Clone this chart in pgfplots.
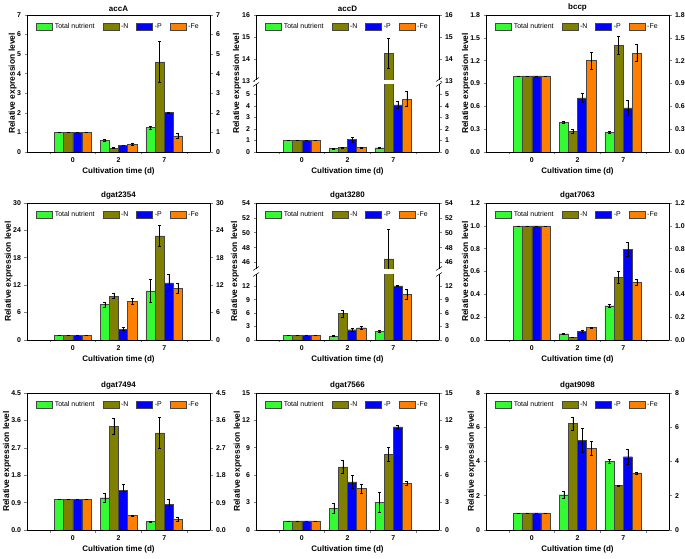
\documentclass[border=0pt]{standalone}
\usepackage{fontspec}
\setmainfont{Liberation Sans}
\usepackage{pgfplots}
\pgfplotsset{compat=1.18}

\definecolor{cgreen}{RGB}{51,250,51}
\definecolor{colive}{RGB}{128,128,0}
\definecolor{cblue}{RGB}{0,0,255}
\definecolor{corange}{RGB}{255,128,0}
\definecolor{cedge}{RGB}{70,70,70}

\pgfplotsset{
  bars/.style={ybar, bar width=0.2, bar shift=0pt, draw=cedge, line width=0.4bp,
    /pgfplots/error bars/y dir=both, /pgfplots/error bars/y explicit,
    /pgfplots/error bars/error bar style={black, line width=0.5bp},
    /pgfplots/error bars/error mark options={rotate=90, black, mark size=1.5bp, line width=0.5bp}},
  bT/.style={fill=cgreen, bars},
  bN/.style={fill=colive, bars},
  bP/.style={fill=cblue, bars},
  bF/.style={fill=corange, bars},
  panel/.style={
    scale only axis, width=183bp, height=137bp,
    xmin=0, xmax=4,
    xtick={1,2,3}, xticklabels={0,2,7},
    minor xtick={0.5,1.5,2.5,3.5},
    major x tick style={draw=none},
    tick align=outside, tick pos=left,
    major tick length=2.5bp, minor tick length=2.5bp,
    axis line style={line width=0.6bp},
    tick style={line width=0.6bp},
    ticklabel style={font=\bfseries\fontsize{7}{8}\selectfont},
    /pgf/number format/assume math mode=true,
    xlabel={Cultivation time (d)}, ylabel={Relative expression level},
    xlabel style={font=\bfseries\fontsize{8}{9.6}\selectfont, inner sep=0pt, yshift=-1bp},
    ylabel style={font=\bfseries\fontsize{8.5}{10}\selectfont, inner sep=0pt},
    ylabel shift=-3bp,
    every axis title/.style={at={(0.5,1)}, anchor=south, yshift=3.5bp, inner sep=0pt,
      font=\bfseries\fontsize{8}{9.6}\selectfont},
    legend columns=4,
    legend style={draw=none, fill=none, at={(0.5,1)}, anchor=center, yshift=-12bp,
      font=\fontsize{7}{8.4}\selectfont, inner sep=0pt,
      /tikz/every even column/.append style={column sep=6bp}},
    legend image code/.code={\draw[#1] (0bp,-3.5bp) rectangle (16bp,3.5bp);},
  },
  rightax/.style={
    scale only axis, width=183bp, xmin=0, xmax=4,
    axis x line=none, axis y line*=right, tick align=outside,
    major tick length=2.5bp, axis line style={line width=0.6bp},
    tick style={line width=0.6bp},
    ticklabel style={font=\bfseries\fontsize{7}{8}\selectfont},
    /pgf/number format/assume math mode=true,
  },
  dec1/.style={yticklabel style={/pgf/number format/fixed, /pgf/number format/fixed zerofill, /pgf/number format/precision=1}},
}

\begin{document}
\begin{tikzpicture}
\path[use as bounding box] (0,0) rectangle (685bp,559bp);

% ---------------- accA ----------------
\begin{axis}[panel, at={(27bp,407bp)}, title={accA}, ymin=0, ymax=7, ytick={0,1,...,7}]
\addplot[bT] coordinates {(0.7,1) +- (0,0) (1.7,0.6) +- (0,0.03) (2.7,1.25) +- (0,0.08)};
\addplot[bN] coordinates {(0.9,1) +- (0,0) (1.9,0.2) +- (0,0.02) (2.9,4.6) +- (0,1.05)};
\addplot[bP] coordinates {(1.1,1) +- (0,0) (2.1,0.35) +- (0,0.02) (3.1,2.02) +- (0,0.02)};
\addplot[bF] coordinates {(1.3,1) +- (0,0) (2.3,0.4) +- (0,0.07) (3.3,0.83) +- (0,0.15)};
\legend{Total nutrient,-N,-P,-Fe}
\end{axis}
\begin{axis}[rightax, at={(27bp,407bp)}, height=137bp, ymin=0, ymax=7, ytick={0,1,...,7}]
\end{axis}

% ---------------- accD (broken) ----------------
\begin{axis}[panel, at={(256bp,407bp)}, height=69bp, ymin=0, ymax=6, ytick={0,1,...,5}, ylabel={}]
\addplot[bT] coordinates {(0.7,1) +- (0,0) (1.7,0.32) +- (0,0.04) (2.7,0.37) +- (0,0.05)};
\addplot[bN] coordinates {(0.9,1) +- (0,0) (1.9,0.38) +- (0,0.03) (2.9,14.27) +- (0,0.67)};
\addplot[bP] coordinates {(1.1,1) +- (0,0) (2.1,1.07) +- (0,0.2) (3.1,4.1) +- (0,0.3)};
\addplot[bF] coordinates {(1.3,1) +- (0,0) (2.3,0.38) +- (0,0.05) (3.3,4.6) +- (0,0.65)};
\end{axis}
\begin{axis}[panel, at={(256bp,478bp)}, height=66bp, xtick=\empty, minor xtick=\empty, xlabel={}, ylabel={},
  title={accD}, ymin=13, ymax=16, ytick={13,14,15,16}]
\addplot[bT] coordinates {(0.7,1) +- (0,0) (1.7,0.32) +- (0,0.04) (2.7,0.37) +- (0,0.05)};
\addplot[bN] coordinates {(0.9,1) +- (0,0) (1.9,0.38) +- (0,0.03) (2.9,14.27) +- (0,0.67)};
\addplot[bP] coordinates {(1.1,1) +- (0,0) (2.1,1.07) +- (0,0.2) (3.1,4.1) +- (0,0.3)};
\addplot[bF] coordinates {(1.3,1) +- (0,0) (2.3,0.38) +- (0,0.05) (3.3,4.6) +- (0,0.65)};
\legend{Total nutrient,-N,-P,-Fe}
\end{axis}
\begin{axis}[rightax, at={(256bp,407bp)}, height=69bp, ymin=0, ymax=6, ytick={0,1,...,5}]
\end{axis}
\begin{axis}[rightax, at={(256bp,478bp)}, height=66bp, ymin=13, ymax=16, ytick={13,14,15,16}]
\end{axis}
\fill[white] (255bp,475.2bp) rectangle (440bp,478.8bp);
\node[rotate=90, font=\bfseries\fontsize{8.5}{10}\selectfont] at (237bp,475.5bp) {Relative expression level};
\foreach \bx in {256,439}{
  \draw[line width=0.5bp] ({\bx*1bp-3bp},472.5bp) -- ({\bx*1bp+3bp},476.5bp);
  \draw[line width=0.5bp] ({\bx*1bp-3bp},477.5bp) -- ({\bx*1bp+3bp},481.5bp);
}

% ---------------- bccp ----------------
\begin{axis}[panel, dec1, at={(486bp,407bp)}, title={bccp}, ymin=0, ymax=1.8, ytick={0,0.3,0.6,0.9,1.2,1.5,1.8}]
\addplot[bT] coordinates {(0.7,1) +- (0,0) (1.7,0.39) +- (0,0.01) (2.7,0.26) +- (0,0.01)};
\addplot[bN] coordinates {(0.9,1) +- (0,0) (1.9,0.27) +- (0,0.03) (2.9,1.40) +- (0,0.12)};
\addplot[bP] coordinates {(1.1,1) +- (0,0) (2.1,0.71) +- (0,0.06) (3.1,0.58) +- (0,0.1)};
\addplot[bF] coordinates {(1.3,1) +- (0,0) (2.3,1.20) +- (0,0.11) (3.3,1.30) +- (0,0.11)};
\legend{Total nutrient,-N,-P,-Fe}
\end{axis}
\begin{axis}[rightax, dec1, at={(486bp,407bp)}, height=137bp, ymin=0, ymax=1.8, ytick={0,0.3,0.6,0.9,1.2,1.5,1.8}]
\end{axis}

% ---------------- dgat2354 ----------------
\begin{axis}[panel, at={(27bp,219bp)}, title={dgat2354}, ymin=0, ymax=30, ytick={0,6,...,30}]
\addplot[bT] coordinates {(0.7,1) +- (0,0) (1.7,7.8) +- (0,0.55) (2.7,10.75) +- (0,2.5)};
\addplot[bN] coordinates {(0.9,1) +- (0,0) (1.9,9.6) +- (0,0.55) (2.9,22.8) +- (0,2.35)};
\addplot[bP] coordinates {(1.1,1) +- (0,0) (2.1,2.4) +- (0,0.3) (3.1,12.5) +- (0,1.8)};
\addplot[bF] coordinates {(1.3,1) +- (0,0) (2.3,8.5) +- (0,0.6) (3.3,11.3) +- (0,1.1)};
\legend{Total nutrient,-N,-P,-Fe}
\end{axis}
\begin{axis}[rightax, at={(27bp,219bp)}, height=137bp, ymin=0, ymax=30, ytick={0,6,...,30}]
\end{axis}

% ---------------- dgat3280 (broken) ----------------
\begin{axis}[panel, at={(256bp,219bp)}, height=67bp, ymin=0, ymax=15, ytick={0,3,...,12}, ylabel={}]
\addplot[bT] coordinates {(0.7,1) +- (0,0) (1.7,0.95) +- (0,0.15) (2.7,1.95) +- (0,0.2)};
\addplot[bN] coordinates {(0.9,1) +- (0,0) (1.9,5.9) +- (0,0.8) (2.9,46.5) +- (0,4.0)};
\addplot[bP] coordinates {(1.1,1) +- (0,0) (2.1,2.3) +- (0,0.3) (3.1,12.1) +- (0,0.15)};
\addplot[bF] coordinates {(1.3,1) +- (0,0) (2.3,2.75) +- (0,0.3) (3.3,10.25) +- (0,1.05)};
\end{axis}
\begin{axis}[panel, at={(256bp,289bp)}, height=67bp, xtick=\empty, minor xtick=\empty, xlabel={}, ylabel={},
  title={dgat3280}, ymin=45, ymax=54, ytick={46,48,...,54}]
\addplot[bT] coordinates {(0.7,1) +- (0,0) (1.7,0.95) +- (0,0.15) (2.7,1.95) +- (0,0.2)};
\addplot[bN] coordinates {(0.9,1) +- (0,0) (1.9,5.9) +- (0,0.8) (2.9,46.5) +- (0,4.0)};
\addplot[bP] coordinates {(1.1,1) +- (0,0) (2.1,2.3) +- (0,0.3) (3.1,12.1) +- (0,0.15)};
\addplot[bF] coordinates {(1.3,1) +- (0,0) (2.3,2.75) +- (0,0.3) (3.3,10.25) +- (0,1.05)};
\legend{Total nutrient,-N,-P,-Fe}
\end{axis}
\begin{axis}[rightax, at={(256bp,219bp)}, height=67bp, ymin=0, ymax=15, ytick={0,3,...,12}]
\end{axis}
\begin{axis}[rightax, at={(256bp,289bp)}, height=67bp, ymin=45, ymax=54, ytick={46,48,...,54}]
\end{axis}
\fill[white] (255bp,285.2bp) rectangle (440bp,289.8bp);
\node[rotate=90, font=\bfseries\fontsize{8.5}{10}\selectfont] at (235bp,287.5bp) {Relative expression level};
\foreach \bx in {256,439}{
  \draw[line width=0.5bp] ({\bx*1bp-3bp},282.5bp) -- ({\bx*1bp+3bp},286.5bp);
  \draw[line width=0.5bp] ({\bx*1bp-3bp},288.5bp) -- ({\bx*1bp+3bp},292.5bp);
}

% ---------------- dgat7063 ----------------
\begin{axis}[panel, dec1, at={(486bp,219bp)}, title={dgat7063}, ymin=0, ymax=1.2, ytick={0,0.2,0.4,0.6,0.8,1.0,1.2}]
\addplot[bT] coordinates {(0.7,1) +- (0,0) (1.7,0.055) +- (0,0.005) (2.7,0.30) +- (0,0.015)};
\addplot[bN] coordinates {(0.9,1) +- (0,0) (1.9,0.022) +- (0,0.002) (2.9,0.55) +- (0,0.05)};
\addplot[bP] coordinates {(1.1,1) +- (0,0) (2.1,0.075) +- (0,0.008) (3.1,0.795) +- (0,0.06)};
\addplot[bF] coordinates {(1.3,1) +- (0,0) (2.3,0.11) +- (0,0.005) (3.3,0.505) +- (0,0.025)};
\legend{Total nutrient,-N,-P,-Fe}
\end{axis}
\begin{axis}[rightax, dec1, at={(486bp,219bp)}, height=137bp, ymin=0, ymax=1.2, ytick={0,0.2,0.4,0.6,0.8,1.0,1.2}]
\end{axis}

% ---------------- dgat7494 ----------------
\begin{axis}[panel, dec1, at={(27bp,29bp)}, title={dgat7494}, ymin=0, ymax=4.5, ytick={0,0.9,1.8,2.7,3.6,4.5}]
\addplot[bT] coordinates {(0.7,1) +- (0,0) (1.7,1.06) +- (0,0.15) (2.7,0.28) +- (0,0.02)};
\addplot[bN] coordinates {(0.9,1) +- (0,0) (1.9,3.41) +- (0,0.26) (2.9,3.19) +- (0,0.5)};
\addplot[bP] coordinates {(1.1,1) +- (0,0) (2.1,1.3) +- (0,0.21) (3.1,0.85) +- (0,0.16)};
\addplot[bF] coordinates {(1.3,1) +- (0,0) (2.3,0.47) +- (0,0.03) (3.3,0.36) +- (0,0.07)};
\legend{Total nutrient,-N,-P,-Fe}
\end{axis}
\begin{axis}[rightax, dec1, at={(27bp,29bp)}, height=137bp, ymin=0, ymax=4.5, ytick={0,0.9,1.8,2.7,3.6,4.5}]
\end{axis}

% ---------------- dgat7566 ----------------
\begin{axis}[panel, at={(256bp,29bp)}, title={dgat7566}, ymin=0, ymax=15, ytick={0,3,...,15}]
\addplot[bT] coordinates {(0.7,1) +- (0,0) (1.7,2.4) +- (0,0.55) (2.7,3.05) +- (0,1.1)};
\addplot[bN] coordinates {(0.9,1) +- (0,0) (1.9,6.9) +- (0,0.7) (2.9,8.3) +- (0,0.72)};
\addplot[bP] coordinates {(1.1,1) +- (0,0) (2.1,5.27) +- (0,0.67) (3.1,11.3) +- (0,0.12)};
\addplot[bF] coordinates {(1.3,1) +- (0,0) (2.3,4.54) +- (0,0.47) (3.3,5.12) +- (0,0.2)};
\legend{Total nutrient,-N,-P,-Fe}
\end{axis}
\begin{axis}[rightax, at={(256bp,29bp)}, height=137bp, ymin=0, ymax=15, ytick={0,3,...,15}]
\end{axis}

% ---------------- dgat9098 ----------------
\begin{axis}[panel, at={(486bp,29bp)}, title={dgat9098}, ymin=0, ymax=8, ytick={0,2,...,8}]
\addplot[bT] coordinates {(0.7,1) +- (0,0) (1.7,2.06) +- (0,0.22) (2.7,4.0) +- (0,0.12)};
\addplot[bN] coordinates {(0.9,1) +- (0,0) (1.9,6.22) +- (0,0.38) (2.9,2.6) +- (0,0.03)};
\addplot[bP] coordinates {(1.1,1) +- (0,0) (2.1,5.24) +- (0,0.68) (3.1,4.28) +- (0,0.45)};
\addplot[bF] coordinates {(1.3,1) +- (0,0) (2.3,4.78) +- (0,0.4) (3.3,3.33) +- (0,0.05)};
\legend{Total nutrient,-N,-P,-Fe}
\end{axis}
\begin{axis}[rightax, at={(486bp,29bp)}, height=137bp, ymin=0, ymax=8, ytick={0,2,...,8}]
\end{axis}

\end{tikzpicture}
\end{document}
